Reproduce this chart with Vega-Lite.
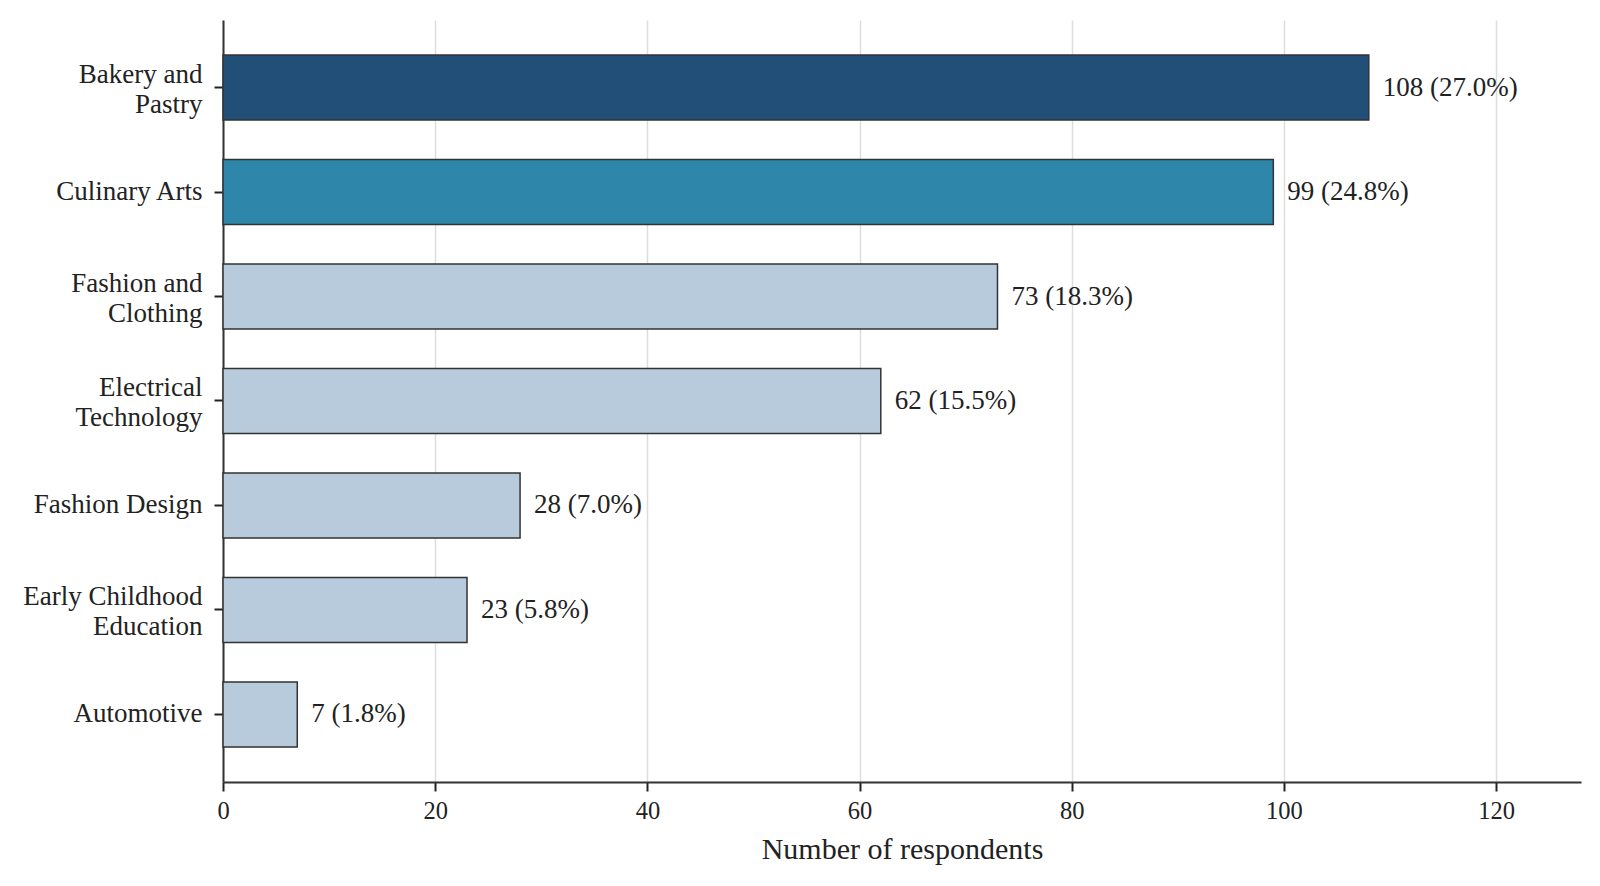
{
  "$schema": "https://vega.github.io/schema/vega-lite/v6.json",
  "width": 1358,
  "height": 762,
  "autosize": {"type": "none"},
  "padding": {"left": 223, "top": 20, "right": 19, "bottom": 104},
  "background": "white",
  "data": {
    "values": [
      {"Program": "Bakery and Pastry", "Count": 108, "Pct": 27.0},
      {"Program": "Culinary Arts", "Count": 99, "Pct": 24.8},
      {"Program": "Fashion and Clothing", "Count": 73, "Pct": 18.3},
      {"Program": "Electrical Technology", "Count": 62, "Pct": 15.5},
      {"Program": "Fashion Design", "Count": 28, "Pct": 7.0},
      {"Program": "Early Childhood Education", "Count": 23, "Pct": 5.8},
      {"Program": "Automotive", "Count": 7, "Pct": 1.8}
    ]
  },
  "transform": [
    {"calculate": "datum.Count + ' (' + format(datum.Pct, '.1f') + '%)'", "as": "Label"}
  ],
  "encoding": {
    "y": {
      "field": "Program",
      "type": "nominal",
      "sort": null,
      "title": null,
      "scale": {"paddingInner": 0.378, "paddingOuter": 0.335},
      "axis": {
        "domainColor": "#333",
        "domainWidth": 2,
        "tickColor": "#222",
        "tickWidth": 2,
        "tickSize": 9,
        "labelPadding": 12,
        "labelFont": "Liberation Serif",
        "labelFontSize": 27,
        "labelColor": "#222",
        "labelLineHeight": 30,
        "labelLimit": 400,
        "labelExpr": "datum.value == 'Bakery and Pastry' ? ['Bakery and', 'Pastry'] : datum.value == 'Fashion and Clothing' ? ['Fashion and', 'Clothing'] : datum.value == 'Electrical Technology' ? ['Electrical', 'Technology'] : datum.value == 'Early Childhood Education' ? ['Early Childhood', 'Education'] : datum.value",
        "labelOffset": {
          "condition": {"test": "indexof(['Bakery and Pastry', 'Fashion and Clothing', 'Electrical Technology', 'Early Childhood Education'], datum.value) >= 0", "value": -13},
          "value": 0
        },
        "grid": false
      }
    },
    "x": {
      "field": "Count",
      "type": "quantitative",
      "title": "Number of respondents",
      "scale": {"domain": [0, 128], "nice": false},
      "axis": {
        "values": [0, 20, 40, 60, 80, 100, 120],
        "domainColor": "#333",
        "domainWidth": 2,
        "tickColor": "#222",
        "tickWidth": 2,
        "tickSize": 9,
        "labelPadding": 8,
        "labelFlush": false,
        "labelFont": "Liberation Serif",
        "labelFontSize": 24.5,
        "labelColor": "#222",
        "titleFont": "Liberation Serif",
        "titleFontSize": 30,
        "titleFontWeight": "normal",
        "titleColor": "#222",
        "titlePadding": 12,
        "grid": true,
        "gridColor": "#dddddd",
        "gridWidth": 1.5
      }
    }
  },
  "layer": [
    {
      "mark": {"type": "bar", "stroke": "#333", "strokeWidth": 1.5},
      "encoding": {
        "color": {
          "field": "Program",
          "type": "nominal",
          "legend": null,
          "scale": {
            "domain": ["Bakery and Pastry", "Culinary Arts", "Fashion and Clothing", "Electrical Technology", "Fashion Design", "Early Childhood Education", "Automotive"],
            "range": ["#224f78", "#2e86ab", "#b8cbdc", "#b8cbdc", "#b8cbdc", "#b8cbdc", "#b8cbdc"]
          }
        }
      }
    },
    {
      "mark": {"type": "text", "align": "left", "baseline": "middle", "dx": 14, "font": "Liberation Serif", "fontSize": 27, "color": "#222"},
      "encoding": {"text": {"field": "Label", "type": "nominal"}}
    }
  ],
  "config": {"view": {"stroke": null}}
}
